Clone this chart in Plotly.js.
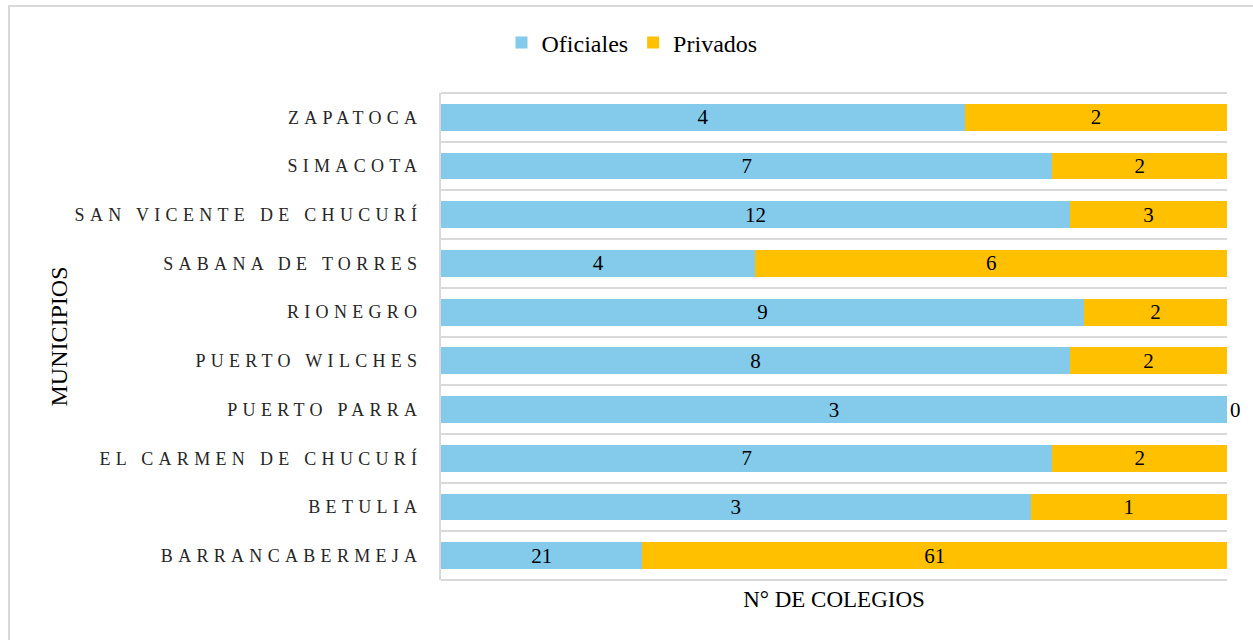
<!DOCTYPE html>
<html>
<head>
<meta charset="utf-8">
<script src="https://cdn.plot.ly/plotly-3.0.1.min.js"></script>
<style>
  html, body { margin: 0; padding: 0; background: #ffffff; }
  #wrap { position: relative; width: 1253px; height: 640px; overflow: hidden; }
  #chart { position: absolute; left: 0; top: 0; width: 1253px; height: 640px; }
  #frame { position: absolute; left: 8px; top: 5px; width: 1300px; height: 700px;
           border-top: 2px solid #d9d9d9; border-left: 2px solid #d9d9d9; pointer-events: none; }
  .ytick text { letter-spacing: 5.3px; }
</style>
</head>
<body>
<div id="wrap">
  <div id="chart"></div>
  <div id="frame"></div>
</div>
<script>
const municipios = ["BARRANCABERMEJA", "BETULIA", "EL CARMEN DE CHUCURÍ", "PUERTO PARRA",
  "PUERTO WILCHES", "RIONEGRO", "SABANA DE TORRES", "SAN VICENTE DE CHUCURÍ", "SIMACOTA", "ZAPATOCA"];
const oficiales = [21, 3, 7, 3, 8, 9, 4, 12, 7, 4];
const privados = [61, 1, 2, 0, 2, 2, 6, 3, 2, 2];
const seriesNames = ["Oficiales", "Privados"];

const serif = "'Liberation Serif', 'Times New Roman', Times, serif";

const traces = [
  {
    type: "bar", orientation: "h", name: seriesNames[0],
    y: municipios, x: oficiales,
    text: oficiales.map(String),
    textposition: "inside", insidetextanchor: "middle", textangle: 0,
    constraintext: "none", cliponaxis: false,
    textfont: { family: serif, size: 21, color: "#000000" },
    marker: { color: "#83CAEB" },
    hoverinfo: "x+y+name"
  },
  {
    type: "bar", orientation: "h", name: seriesNames[1],
    y: municipios, x: privados,
    text: privados.map(String),
    textposition: privados.map(v => v === 0 ? "outside" : "inside"),
    insidetextanchor: "middle", textangle: 0,
    constraintext: "none", cliponaxis: false,
    textfont: { family: serif, size: 21, color: "#000000" },
    marker: { color: "#FFC000" },
    hoverinfo: "x+y+name"
  }
];

const layout = {
  width: 1253, height: 640,
  font: { family: serif, color: "#000000" },
  margin: { l: 441, r: 26, t: 93, b: 60, pad: 0 },
  paper_bgcolor: "#ffffff", plot_bgcolor: "#ffffff",
  barmode: "stack", barnorm: "percent", bargap: 0.45,
  showlegend: true,
  legend: {
    orientation: "h", x: 0.243, xanchor: "center", y: 1.103, yanchor: "middle",
    font: { family: serif, size: 24, color: "#000000" },
    itemwidth: 30, tracegroupgap: 0, traceorder: "normal"
  },
  xaxis: {
    range: [0, 100.0001], showticklabels: false, ticks: "", showgrid: false, zeroline: false,
    showline: false, fixedrange: true,
    title: { text: "N° DE COLEGIOS", font: { family: serif, size: 23, color: "#000000" }, standoff: 10 }
  },
  yaxis: {
    type: "category", categoryorder: "array", categoryarray: municipios,
    tickson: "boundaries", ticks: "", showgrid: true, gridcolor: "#d9d9d9", gridwidth: 2,
    showline: true, linecolor: "#d9d9d9", linewidth: 2,
    zeroline: false, automargin: false, ticklabelstandoff: 13,
    tickfont: { family: serif, size: 18, color: "#262626" },
    title: { text: "MUNICIPIOS", font: { family: serif, size: 24, color: "#000000" }, standoff: 0 }
  },
  shapes: [
    { type: "line", xref: "paper", yref: "paper", x0: 0, x1: 1, y0: 1, y1: 1,
      line: { color: "#d9d9d9", width: 2 }, layer: "above" },
    { type: "line", xref: "paper", yref: "paper", x0: 0, x1: 1, y0: 0, y1: 0,
      line: { color: "#d9d9d9", width: 2 }, layer: "above" }
  ]
};

Plotly.newPlot("chart", traces, layout, { displayModeBar: false, staticPlot: true });
</script>
</body>
</html>
